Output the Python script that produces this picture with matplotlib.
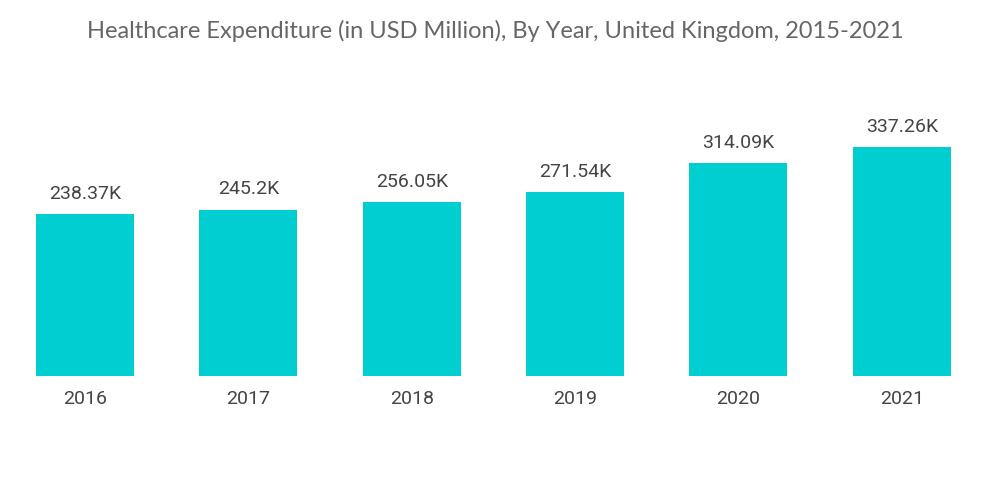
import matplotlib
matplotlib.use("Agg")
import matplotlib.pyplot as plt

years = ["2016", "2017", "2018", "2019", "2020", "2021"]
values = [238.37, 245.2, 256.05, 271.54, 314.09, 337.26]
labels = ["238.37K", "245.2K", "256.05K", "271.54K", "314.09K", "337.26K"]

fig = plt.figure(figsize=(10, 5.04), dpi=100)
ax = fig.add_axes([0.0035, (504 - 376) / 504, 0.98, 0.5])
x = list(range(len(years)))
bars = ax.bar(x, values, width=0.6, color="#00CED1")
ax.set_xlim(-0.5, 5.5)
# scale: 229px for 337.26 ; axes height 252px
ax.set_ylim(0, 337.26 * 252 / 229)
for xi, v, lab in zip(x, values, labels):
    ax.annotate(lab, (xi, v), xytext=(0, 8), textcoords="offset points",
                ha="center", va="bottom", fontsize=14, color="#444444", family="Roboto")
ax.set_xticks(x)
ax.set_xticklabels(years, fontsize=14, color="#444444", family="Roboto")
ax.tick_params(axis="x", length=0, pad=10)
ax.set_yticks([])
for s in ax.spines.values():
    s.set_visible(False)
fig.text(0.495, 1 - 31 / 504, "Healthcare Expenditure (in USD Million), By Year, United Kingdom, 2015-2021",
         ha="center", va="center", fontsize=17, color="#666666", family="Lato")
fig.savefig("out.png", dpi=100)
